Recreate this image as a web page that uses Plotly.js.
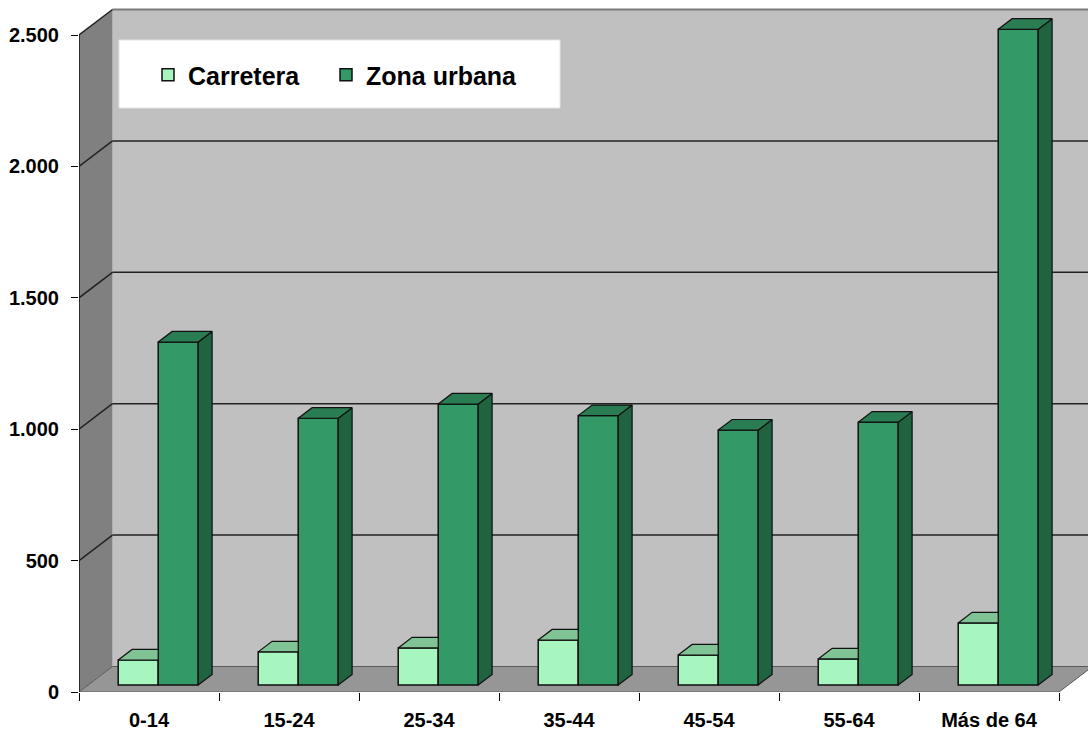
<!DOCTYPE html>
<html>
<head>
<meta charset="utf-8">
<script src="https://cdn.plot.ly/plotly-3.0.1.min.js"></script>
<style>
  html, body { margin: 0; padding: 0; background: #ffffff; }
  #chart { width: 1088px; height: 735px; }
</style>
</head>
<body>
<div id="chart"></div>
<script>
// ---- data ----
const categories = ['0-14', '15-24', '25-34', '35-44', '45-54', '55-64', 'Más de 64'];
const carretera  = [95, 126, 141, 171, 114, 99, 236];
const zonaUrbana = [1305, 1015, 1069, 1025, 970, 1000, 2495];
const yTickVals  = [0, 500, 1000, 1500, 2000, 2500];
const yTickText  = ['0', '500', '1.000', '1.500', '2.000', '2.500'];

// ---- 3D-look geometry (in axis units) ----
const PX_PER_CAT = 140;
const PX_PER_VAL = 657 / 2500;
const DX = 33.5 / PX_PER_CAT;      // full depth, x shift
const DY = 25.5 / PX_PER_VAL;      // full depth, y shift
const F0 = 0.275, F1 = 0.69;       // bar front / back depth fractions
const BAR_W = 0.2857;
const N = categories.length;
const YMAX = yTickVals[yTickVals.length - 1];

const colors = {
  carFront: '#a7f6bf', carTop: '#80c495',
  urbFront: '#339966', urbTop: '#2a7d53', urbSide: '#1f6340'
};

const ddx = (F1 - F0) * DX, ddy = (F1 - F0) * DY;
const baseY = F0 * DY;
const centerC = categories.map((c, i) => i + 0.5 + F0 * DX - BAR_W / 2);
const centerU = categories.map((c, i) => i + 0.5 + F0 * DX + BAR_W / 2);

// faces
const carTopX = [], carTopY = [], urbTopX = [], urbTopY = [], urbSideX = [], urbSideY = [];
categories.forEach((c, i) => {
  // carretera top (clipped where the taller urbana bar hides it)
  let xl = centerC[i] - BAR_W / 2, xr = centerC[i] + BAR_W / 2, t = carretera[i] + baseY;
  carTopX.push(xl, xr, xr, xl + ddx, xl, null);
  carTopY.push(t, t, t + ddy, t + ddy, t, null);
  // urbana top
  xl = centerU[i] - BAR_W / 2; xr = centerU[i] + BAR_W / 2; t = zonaUrbana[i] + baseY;
  urbTopX.push(xl, xr, xr + ddx, xl + ddx, xl, null);
  urbTopY.push(t, t, t + ddy, t + ddy, t, null);
  // urbana side
  urbSideX.push(xr, xr + ddx, xr + ddx, xr, xr, null);
  urbSideY.push(baseY, baseY + ddy, t + ddy, t, baseY, null);
});

const faceLine = { color: '#111', width: 1.2 };
const traces = [
  { type: 'bar', name: 'Carretera', x: centerC, y: carretera, base: baseY, width: BAR_W, legend: 'legend',
    marker: { color: colors.carFront, line: { color: '#111', width: 1.5 } }, hoverinfo: 'y' },
  { type: 'bar', name: 'Zona urbana', x: centerU, y: zonaUrbana, base: baseY, width: BAR_W, legend: 'legend2',
    marker: { color: colors.urbFront, line: { color: '#111', width: 1.5 } }, hoverinfo: 'y' },
  { type: 'scatter', mode: 'lines', x: carTopX, y: carTopY, fill: 'toself', fillcolor: colors.carTop,
    line: faceLine, showlegend: false, hoverinfo: 'skip' },
  { type: 'scatter', mode: 'lines', x: urbSideX, y: urbSideY, fill: 'toself', fillcolor: colors.urbSide,
    line: faceLine, showlegend: false, hoverinfo: 'skip' },
  { type: 'scatter', mode: 'lines', x: urbTopX, y: urbTopY, fill: 'toself', fillcolor: colors.urbTop,
    line: faceLine, showlegend: false, hoverinfo: 'skip' }
];

// walls, floor, gridlines
const shapes = [];
shapes.push({ type: 'rect', xref: 'x', yref: 'y', layer: 'below', x0: DX, x1: N + DX, y0: DY, y1: YMAX + DY,
  fillcolor: '#c0c0c0', line: { width: 0 } });
shapes.push({ type: 'path', xref: 'x', yref: 'y', layer: 'below',
  path: `M0,0 L0,${YMAX} L${DX},${YMAX + DY} L${DX},${DY} Z`, fillcolor: '#808080', line: { width: 0 } });
shapes.push({ type: 'path', xref: 'x', yref: 'y', layer: 'below',
  path: `M0,0 L${N},0 L${N + DX},${DY} L${DX},${DY} Z`, fillcolor: '#969696', line: { color: '#5a5a5a', width: 1 } });
yTickVals.forEach(v => {
  if (v === 0) return;
  const top = v === YMAX;
  shapes.push({ type: 'path', xref: 'x', yref: 'y', layer: 'below',
    path: `M${DX},${v + DY} L${N + DX},${v + DY}`, line: { color: top ? '#7a7a7a' : '#222', width: top ? 2 : 1.5 } });
  shapes.push({ type: 'path', xref: 'x', yref: 'y', layer: 'below',
    path: `M0,${v} L${DX},${v + DY}`, line: { color: '#222', width: 1.5 } });
});
shapes.push({ type: 'path', xref: 'x', yref: 'y', layer: 'below',
  path: `M0,0 L0,${YMAX}`, line: { color: '#111', width: 1.5 } });
// legend box
shapes.push({ type: 'rect', xref: 'paper', yref: 'paper', layer: 'above',
  x0: (119 - 79) / 1009, x1: (560 - 79) / 1009, y0: 1 - 108 / 692, y1: 1 - 40 / 692,
  fillcolor: '#ffffff', line: { color: '#e4e4e4', width: 1 } });

const font = 'Liberation Sans, Arial, sans-serif';
const legendBase = {
  orientation: 'h', xanchor: 'left', y: 1 - 75 / 692, yanchor: 'middle',
  bgcolor: 'rgba(0,0,0,0)', borderwidth: 0,
  font: { family: font, size: 25, color: '#000', weight: 'bold' }
};
const layout = {
  width: 1088, height: 735,
  margin: { l: 79, r: 0, t: 0, b: 43, pad: 0 },
  paper_bgcolor: '#ffffff', plot_bgcolor: 'rgba(0,0,0,0)',
  barmode: 'overlay',
  showlegend: true,
  legend: Object.assign({}, legendBase, { x: (148 - 79) / 1009 }),
  legend2: Object.assign({}, legendBase, { x: (326 - 79) / 1009 }),
  xaxis: {
    range: [0, 1009 / PX_PER_CAT], showgrid: false, zeroline: false, showline: false,
    tickmode: 'array', tickvals: categories.map((c, i) => i + 0.5), ticktext: categories,
    ticks: '', ticklabelstandoff: 14,
    minor: { tickmode: 'array', tickvals: categories.map((c, i) => i).concat([N]), ticks: 'outside',
             ticklen: 8, tickwidth: 1, tickcolor: '#000', showgrid: false },
    tickfont: { family: font, size: 20, color: '#000', weight: 'bold' }, fixedrange: true
  },
  yaxis: {
    range: [0, 692 / PX_PER_VAL], showgrid: false, zeroline: false, showline: false,
    tickmode: 'array', tickvals: yTickVals, ticktext: yTickText,
    ticks: 'outside', ticklen: 7, tickwidth: 1, tickcolor: '#000', ticklabelstandoff: 8,
    tickfont: { family: font, size: 20, color: '#000', weight: 'bold' }, fixedrange: true
  },
  shapes: shapes
};

Plotly.newPlot('chart', traces, layout, { displayModeBar: false, staticPlot: true });
</script>
</body>
</html>
